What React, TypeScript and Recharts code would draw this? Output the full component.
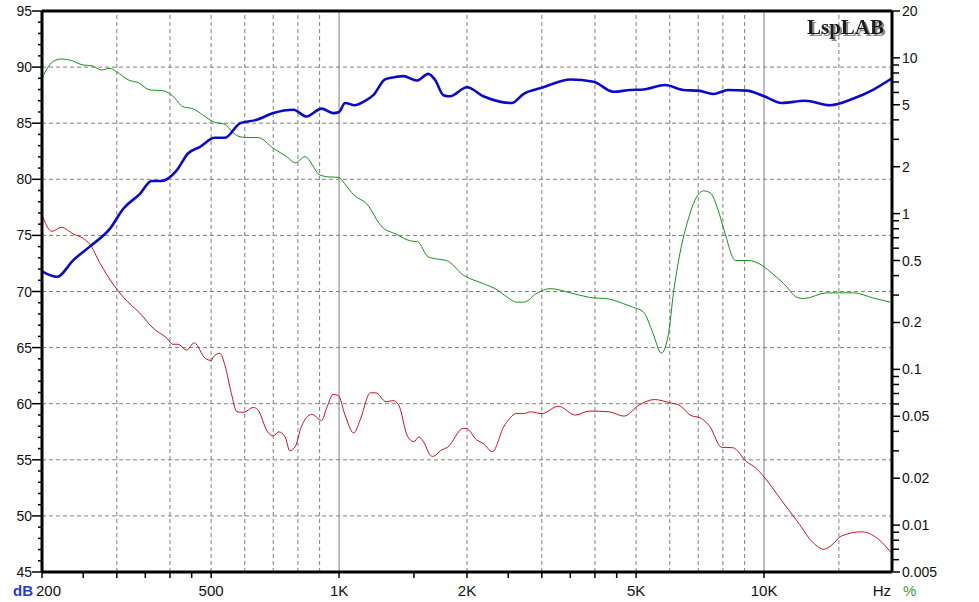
import React from 'react';
import { ComposedChart, Line, XAxis, YAxis, ReferenceLine } from 'recharts';

// frequency (Hz), SPL (dB) - blue, left axis
const splCurve: [number, number][] = [
  [200, 71.8], [217, 71.3], [237, 72.8], [259, 74.0], [289, 75.6], [311, 77.4], [340, 78.7],
  [362, 79.85], [382, 79.85], [415, 80.8], [441, 82.3], [471, 82.9], [510, 83.7], [539, 83.7],
  [585, 85.0], [640, 85.3], [700, 85.9], [781, 86.2], [838, 85.6], [910, 86.3], [968, 85.9],
  [1000, 86.0], [1033, 86.8], [1090, 86.6], [1141, 86.9], [1204, 87.5], [1283, 88.9], [1350, 89.1],
  [1417, 89.2], [1524, 88.8], [1622, 89.4], [1683, 88.85], [1760, 87.5], [1824, 87.4], [2000, 88.2],
  [2185, 87.4], [2400, 86.9], [2549, 86.8], [2714, 87.6], [3025, 88.2], [3500, 88.9], [3970, 88.7],
  [4420, 87.8], [4840, 87.96], [5200, 88.0], [5850, 88.4], [6450, 87.96], [7000, 87.9], [7600, 87.6],
  [8230, 87.96], [9100, 87.9], [10000, 87.4], [11000, 86.8], [12490, 87.0], [14300, 86.6],
  [16230, 87.2], [18090, 88.0], [20000, 89.0],
];

// frequency (Hz), THD (%) - green, right axis
const thdCurve: [number, number][] = [
  [200, 7.4], [212, 9.45], [222, 9.83], [232, 9.7], [250, 9.0], [262, 8.9], [276, 8.36], [289, 8.57],
  [300, 8.14], [320, 7.2], [337, 6.93], [359, 6.22], [386, 6.15], [406, 5.69], [429, 4.86], [454, 4.7],
  [478, 4.3], [506, 3.89], [539, 3.74], [558, 3.4], [578, 3.15], [606, 3.08], [644, 3.08], [700, 2.63],
  [753, 2.32], [789, 2.12], [831, 2.32], [902, 1.77], [950, 1.72], [1000, 1.71], [1030, 1.56],
  [1083, 1.32], [1160, 1.16], [1263, 0.82], [1360, 0.74], [1476, 0.667], [1530, 0.66], [1620, 0.528],
  [1708, 0.51], [1790, 0.5], [1960, 0.403], [2180, 0.356], [2360, 0.323], [2490, 0.29], [2620, 0.27],
  [2720, 0.27], [2920, 0.308], [3140, 0.33], [3500, 0.31], [3880, 0.29], [4310, 0.283], [4760, 0.259],
  [4930, 0.25], [5200, 0.234], [5480, 0.17], [5730, 0.127], [5960, 0.17], [6120, 0.308], [6340, 0.556],
  [6640, 0.93], [6940, 1.28], [7200, 1.4], [7470, 1.36], [7800, 1.05], [8090, 0.75], [8560, 0.5],
  [9180, 0.5], [9780, 0.474], [10330, 0.424], [11120, 0.356], [11960, 0.29], [12400, 0.285],
  [14050, 0.31], [16230, 0.31], [18090, 0.287], [19800, 0.27],
];

// frequency (Hz), 3rd harmonic (%) - red, right axis
const k3Curve: [number, number][] = [
  [200, 0.98], [211, 0.77], [222, 0.817], [237, 0.74], [250, 0.693], [259, 0.637], [274, 0.479],
  [295, 0.348], [311, 0.29], [340, 0.229], [366, 0.183], [394, 0.158], [406, 0.145], [418, 0.145],
  [438, 0.133], [456, 0.148], [484, 0.118], [500, 0.114], [506, 0.12], [524, 0.127], [539, 0.106],
  [558, 0.07], [575, 0.0534], [597, 0.053], [628, 0.057], [644, 0.055], [679, 0.0397], [700, 0.0374],
  [721, 0.0397], [746, 0.037], [766, 0.03], [789, 0.032], [815, 0.0428], [862, 0.0514], [910, 0.047],
  [934, 0.056], [968, 0.069], [996, 0.068], [1033, 0.0509], [1083, 0.039], [1120, 0.047], [1185, 0.0707],
  [1220, 0.0707], [1290, 0.062], [1340, 0.063], [1380, 0.0594], [1450, 0.037], [1500, 0.0343],
  [1540, 0.0368], [1580, 0.0343], [1640, 0.0281], [1660, 0.0276], [1740, 0.0303], [1800, 0.0316],
  [1960, 0.0418], [1990, 0.0418], [2108, 0.0352], [2185, 0.0334], [2295, 0.0296], [2440, 0.0428],
  [2520, 0.0484], [2610, 0.052], [2720, 0.052], [2820, 0.0534], [3000, 0.052], [3280, 0.058],
  [3600, 0.0509], [3880, 0.054], [4320, 0.0534], [4680, 0.0501], [5080, 0.059], [5520, 0.064],
  [6010, 0.061], [6310, 0.059], [6700, 0.0509], [7120, 0.0484], [7460, 0.0428], [7940, 0.0316],
  [8440, 0.0314], [9100, 0.0255], [9520, 0.0235], [10000, 0.0204], [10950, 0.0146], [12000, 0.0105],
  [13050, 0.0077], [13840, 0.007], [14300, 0.0073], [15200, 0.0085], [16970, 0.00906], [18500, 0.0082],
  [19950, 0.0066],
];

const freqTicks = [200, 250, 300, 350, 400, 450, 500, 1000, 1500, 2000, 2500, 3000, 3500, 4000, 4500, 5000, 10000, 20000];
const freqLabels: Record<number, string> = { 200: '200', 500: '500', 1000: '1K', 2000: '2K', 5000: '5K', 10000: '10K', 20000: 'Hz' };
const freqGridDashed = [300, 400, 500, 600, 700, 800, 900, 2000, 3000, 4000, 5000, 6000, 7000, 8000, 9000, 15000];
const freqGridSolid = [1000, 10000];

const dbTicks = Array.from({ length: 51 }, (_, i) => 45 + i);
const dbGrid = [50, 55, 60, 65, 70, 75, 80, 85, 90];

const pctMajor = [0.005, 0.01, 0.02, 0.05, 0.1, 0.2, 0.5, 1, 2, 5, 10, 20];
const pctMinor = [
  0.006, 0.007, 0.008, 0.009, 0.03, 0.04, 0.06, 0.07, 0.08, 0.09,
  0.3, 0.4, 0.6, 0.7, 0.8, 0.9, 3, 4, 6, 7, 8, 9,
];
const pctTicks = [...pctMajor, ...pctMinor].sort((a, b) => a - b);

const toRows = (c: [number, number][]) => c.map(([f, v]) => ({ f, v }));

const FONT = '"Liberation Sans", Arial, sans-serif';
const GRID = '#7f7f7f';

const FreqTick = (props: any) => {
  const { x, y, payload } = props;
  const v = payload.value;
  const label = freqLabels[v];
  let anchor: 'middle' | 'start' | 'end' = 'middle';
  let tx = x;
  if (v === 200) { anchor = 'start'; tx = x - 6; }
  if (v === 20000) { anchor = 'end'; tx = x - 1; }
  return (
    <g>
      {v !== 20000 && <line x1={x} x2={x} y1={y} y2={y + 6} stroke="#000" strokeWidth={1.5} />}
      {label && (
        <text x={tx} y={y + 24} textAnchor={anchor} fontSize={15} fontFamily={FONT} fill="#111">{label}</text>
      )}
    </g>
  );
};

const DbTick = (props: any) => {
  const { x, y, payload } = props;
  const v = payload.value;
  const major = v % 5 === 0;
  return (
    <g>
      <line x1={x - (major ? 10 : 4)} x2={x} y1={y} y2={y} stroke="#000" strokeWidth={1.5} />
      {major && (
        <text x={x - 10} y={y + 5} textAnchor="end" fontSize={14} fontFamily={FONT} fill="#111">{v}</text>
      )}
    </g>
  );
};

const PctTick = (props: any) => {
  const { x, y, payload } = props;
  const v = payload.value;
  const major = pctMajor.includes(v);
  return (
    <g>
      <line x1={x} x2={x + (major ? 8 : 7)} y1={y} y2={y} stroke="#000" strokeWidth={1.5} />
      {major && (
        <text x={x + 10} y={y + 5} textAnchor="start" fontSize={14} fontFamily={FONT} fill="#111">{String(v)}</text>
      )}
    </g>
  );
};

export default function App() {
  return (
    <div style={{ position: 'absolute', left: 0, top: 0, width: 979, height: 602, background: '#fff' }}>
      <ComposedChart width={979} height={602} margin={{ top: 11, right: 37, bottom: 0, left: 0 }}>
        <XAxis
          type="number"
          dataKey="f"
          scale="log"
          domain={[200, 20000]}
          allowDataOverflow
          ticks={freqTicks}
          interval={0}
          tick={FreqTick}
          tickLine={false}
          tickSize={0}
          tickMargin={0}
          height={30}
          axisLine={{ stroke: '#000', strokeWidth: 3 }}
        />
        <YAxis
          yAxisId="db"
          type="number"
          domain={[45, 95]}
          allowDataOverflow
          ticks={dbTicks}
          interval={0}
          tick={DbTick}
          tickLine={false}
          tickSize={0}
          tickMargin={0}
          width={42}
          axisLine={{ stroke: '#000', strokeWidth: 3 }}
        />
        <YAxis
          yAxisId="pct"
          orientation="right"
          type="number"
          scale="log"
          domain={[0.005, 20]}
          allowDataOverflow
          ticks={pctTicks}
          interval={0}
          tick={PctTick}
          tickLine={false}
          tickSize={0}
          tickMargin={0}
          width={50}
          axisLine={{ stroke: '#000', strokeWidth: 3 }}
        />

        {dbGrid.map((d) => (
          <ReferenceLine key={'h' + d} y={d} yAxisId="db" stroke={GRID} strokeDasharray="4 3" />
        ))}
        {freqGridDashed.map((f) => (
          <ReferenceLine key={'v' + f} x={f} yAxisId="db" stroke={GRID} strokeDasharray="4 3" />
        ))}
        {freqGridSolid.map((f) => (
          <ReferenceLine key={'s' + f} x={f} yAxisId="db" stroke={GRID} />
        ))}
        <ReferenceLine y={95} yAxisId="db" stroke="#000" strokeWidth={3} />

        <Line yAxisId="pct" data={toRows(thdCurve)} dataKey="v" type="monotone" stroke="#1a8f1a" strokeWidth={1} dot={false} isAnimationActive={false} />
        <Line yAxisId="pct" data={toRows(k3Curve)} dataKey="v" type="monotone" stroke="#cc1020" strokeWidth={1} dot={false} isAnimationActive={false} />
        <Line yAxisId="db" data={toRows(splCurve)} dataKey="v" type="monotone" stroke="#0a0acc" strokeWidth={2.6} dot={false} isAnimationActive={false} />
      </ComposedChart>

      <svg width={979} height={602} style={{ position: 'absolute', left: 0, top: 0, pointerEvents: 'none' }}>
        <defs>
          <filter id="logoShadow" x="-10%" y="-30%" width="130%" height="170%">
            <feDropShadow dx={2} dy={2} stdDeviation={0.7} floodColor="#8a8a8a" floodOpacity={1} />
          </filter>
        </defs>
        <text x={884} y={34} textAnchor="end" fontSize={21} fontWeight="bold" fontFamily='"Liberation Serif", serif' fill="#1a1a1a" filter="url(#logoShadow)">LspLAB</text>
        <text x={13} y={596} fontSize={15} fontWeight="bold" fontFamily={FONT} fill="#1f3fd0">dB</text>
        <text x={903} y={596} fontSize={15} fontFamily={FONT} fill="#3a9a3a">%</text>
      </svg>
    </div>
  );
}
